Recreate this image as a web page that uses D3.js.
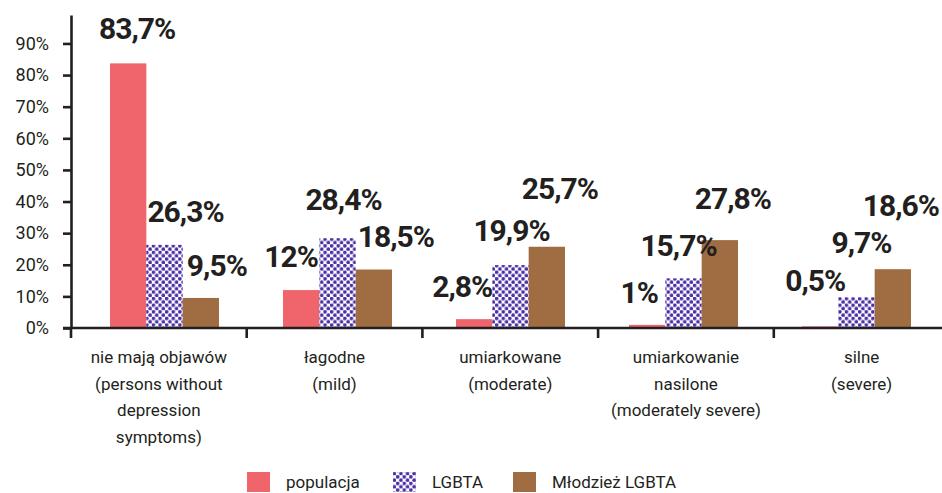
<!DOCTYPE html>
<html><head><meta charset="utf-8">
<script src="https://cdn.jsdelivr.net/npm/d3@7"></script>
<style>body{margin:0;background:#fff}svg{display:block}</style>
</head><body><svg id="c" width="942" height="493"></svg>
<script>
// ---- data ----
const categories = [
  "nie mają objawów\n(persons without\ndepression\nsymptoms)",
  "łagodne\n(mild)",
  "umiarkowane\n(moderate)",
  "umiarkowanie\nnasilone\n(moderately severe)",
  "silne\n(severe)"
];
const seriesNames = ["populacja", "LGBTA", "Młodzież LGBTA"];
const populacja = [83.7, 12, 2.8, 1, 0.5];
const lgbta = [26.3, 28.4, 19.9, 15.7, 9.7];
const mlodziez = [9.5, 18.5, 25.7, 27.8, 18.6];
const yTicks = [0, 10, 20, 30, 40, 50, 60, 70, 80, 90];

// ---- layout (label nudges relative to bar centre / bar top) ----
const labelNudge = [
  [[9, -24], [-10, -23], [-12, -22], [-8, -22], [-5, -35]],
  [[21, -23], [6, -28], [1, -24], [-5, -22], [5, -44]],
  [[16, -22], [22, -23], [13, -48], [13, -31], [8, -53]]
];
const legendX = [247, 393, 513];

const W = 942, H = 493;
const colors = ["#f0646c", "url(#dots)", "#a06d43"];
const ink = "#231f20";
const series = [populacja, lgbta, mlodziez];

const svg = d3.select("#c");
const defs = svg.append("defs");
const P = 6.6;
const pat = defs.append("pattern").attr("id", "dots").attr("patternUnits", "userSpaceOnUse")
  .attr("width", P).attr("height", P);
pat.append("rect").attr("width", P).attr("height", P).attr("fill", "#fff");
pat.append("circle").attr("cx", P / 4).attr("cy", P / 4).attr("r", 1.85).attr("fill", "#4b2ea3");
pat.append("circle").attr("cx", 3 * P / 4).attr("cy", 3 * P / 4).attr("r", 1.85).attr("fill", "#4b2ea3");

const y = d3.scaleLinear().domain([0, 99]).range([328, 15]);
// axis scale (category boundaries) and bar-group scale
const xAxisScale = d3.scaleBand().domain(categories).range([71, 71 + 5 * 175.7]);
const xg = d3.scaleBand().domain(categories).range([71, 71 + 5 * 173]);
const x1 = d3.scaleBand().domain(seriesNames).range([39, 39 + 109]);

// bars
series.forEach((vals, si) => {
  svg.append("g").selectAll("rect").data(vals).join("rect")
    .attr("x", (d, i) => xg(categories[i]) + x1(seriesNames[si]))
    .attr("width", x1.bandwidth())
    .attr("y", d => y(d))
    .attr("height", d => y(0) - y(d))
    .attr("fill", colors[si]);
});

// value labels
const fmt = v => String(v).replace(".", ",") + "%";
series.forEach((vals, si) => {
  svg.append("g").selectAll("text").data(vals).join("text")
    .attr("x", (d, i) => xg(categories[i]) + x1(seriesNames[si]) + x1.bandwidth() / 2 + labelNudge[si][i][0])
    .attr("y", (d, i) => y(d) + labelNudge[si][i][1])
    .attr("text-anchor", "middle")
    .attr("font-family", "Roboto, 'DejaVu Sans', sans-serif")
    .attr("font-weight", 700)
    .attr("font-size", 30)
    .attr("letter-spacing", -1)
    .attr("fill", ink)
    .text(fmt);
});

// y axis
const yAxis = svg.append("g").attr("transform", "translate(71,0)")
  .call(d3.axisLeft(y).tickValues(yTicks).tickSize(8).tickSizeOuter(0).tickPadding(14)
    .tickFormat(d => d + "%"));
yAxis.selectAll("path, line").attr("stroke", ink).attr("stroke-width", 2.6);
yAxis.selectAll("text").attr("font-family", "Roboto, sans-serif").attr("font-size", 18)
  .attr("fill", ink);

// x axis
const xAxis = svg.append("g");
xAxis.append("line").attr("x1", 63).attr("x2", W).attr("y1", y(0)).attr("y2", y(0))
  .attr("stroke", ink).attr("stroke-width", 2.6);
xAxis.selectAll("line.t").data(categories.slice(1)).join("line").attr("class", "t")
  .attr("x1", d => xAxisScale(d)).attr("x2", d => xAxisScale(d))
  .attr("y1", y(0)).attr("y2", y(0) + 10)
  .attr("stroke", ink).attr("stroke-width", 2.6);
xAxis.append("line").attr("x1", 71).attr("x2", 71).attr("y1", y(0)).attr("y2", y(0) + 10)
  .attr("stroke", ink).attr("stroke-width", 2.6);

// category labels
const catG = svg.append("g");
categories.forEach(c => {
  const t = catG.append("text")
    .attr("x", xAxisScale(c) + xAxisScale.bandwidth() / 2)
    .attr("y", 363)
    .attr("text-anchor", "middle")
    .attr("font-family", "Roboto, sans-serif")
    .attr("font-size", 17)
    .attr("fill", ink);
  c.split("\n").forEach((line, li) => {
    t.append("tspan").attr("x", xAxisScale(c) + xAxisScale.bandwidth() / 2)
      .attr("dy", li === 0 ? 0 : 26.5).text(line);
  });
});

// legend
const leg = svg.append("g");
seriesNames.forEach((n, i) => {
  leg.append("rect").attr("x", legendX[i]).attr("y", 472).attr("width", 23).attr("height", 20)
    .attr("fill", colors[i]);
  leg.append("text").attr("x", legendX[i] + 39).attr("y", 488)
    .attr("font-family", "Roboto, sans-serif").attr("font-size", 17).attr("fill", ink)
    .text(n);
});
</script>
</body></html>
